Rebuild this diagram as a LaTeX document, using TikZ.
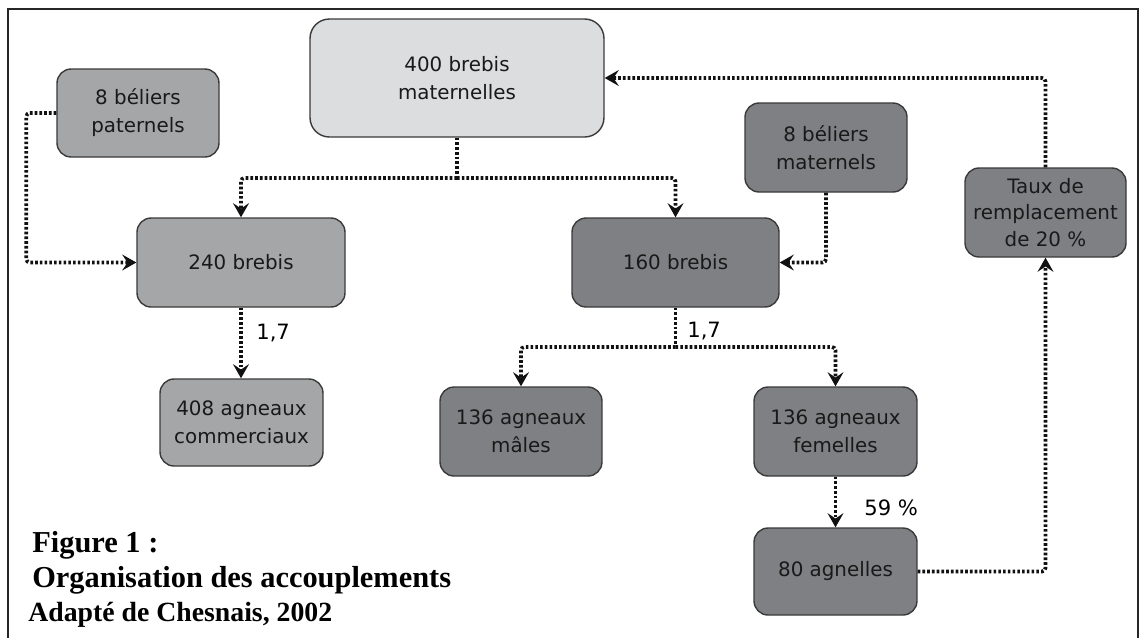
\documentclass[tikz,border=0pt]{standalone}
\usepackage{fontspec}
\setmainfont{Liberation Serif}
\newfontfamily\boxfont{DejaVu Sans}
\usetikzlibrary{arrows.meta}
\definecolor{lightfill}{HTML}{DCDDDF}
\definecolor{midfill}{HTML}{A5A6A8}
\definecolor{darkfill}{HTML}{7F8083}
\definecolor{boxline}{HTML}{3A3A3A}
\definecolor{linecol}{HTML}{111111}
\tikzset{
  box/.style={draw=boxline, line width=0.8pt, rounded corners=8pt, align=center,
    font=\boxfont\fontsize{11.3}{16}\selectfont, text=black!90, inner sep=2pt},
  conn/.style={draw=linecol, line width=2.1pt, dash pattern=on 1.5pt off 1.2pt, rounded corners=2pt},
  arr/.style={conn, -{Stealth[length=8pt,width=9pt,inset=3pt]}},
  lbl/.style={font=\boxfont\fontsize{12}{14}\selectfont, text=black, anchor=west, inner sep=0pt},
  captext/.style={anchor=base west, inner sep=0pt}
}
\begin{document}
\begin{tikzpicture}[x=0.02cm, y=-0.02cm]
\useasboundingbox (0,0) rectangle (1145,637);
\fill[white] (0,0) rectangle (1145,637);
\draw[line width=1.1pt, black!85] (8,645) -- (8,9) -- (1138,9) -- (1138,645);

\node[box, fill=midfill, minimum width=3.24cm, minimum height=1.76cm] (bp) at (138,113) {8 béliers\\paternels};
\node[box, fill=lightfill, minimum width=5.88cm, minimum height=2.36cm, rounded corners=11pt] (mat) at (457,78) {400 brebis\\maternelles};
\node[box, fill=midfill, minimum width=4.16cm, minimum height=1.78cm] (b240) at (241,262.5) {240 brebis};
\node[box, fill=darkfill, minimum width=4.14cm, minimum height=1.78cm] (b160) at (675.5,262.5) {160 brebis};
\node[box, fill=darkfill, minimum width=3.24cm, minimum height=1.78cm] (bm) at (826,147.5) {8 béliers\\maternels};
\node[box, fill=darkfill, minimum width=3.22cm, minimum height=1.78cm, font=\boxfont\fontsize{11.3}{15.3}\selectfont] (taux) at (1045.5,212.5) {Taux de\\remplacement\\de 20 \%};
\node[box, fill=midfill, minimum width=3.26cm, minimum height=1.74cm] (a408) at (241.5,422.5) {408 agneaux\\commerciaux};
\node[box, fill=darkfill, minimum width=3.24cm, minimum height=1.78cm] (males) at (521,431.5) {136 agneaux\\mâles};
\node[box, fill=darkfill, minimum width=3.26cm, minimum height=1.78cm] (fem) at (835.5,431.5) {136 agneaux\\femelles};
\node[box, fill=darkfill, minimum width=3.26cm, minimum height=1.74cm] (agn) at (835.5,571.5) {80 agnelles};

\coordinate (j1) at (457,178);
\coordinate (j2) at (675.5,347);

\draw[conn] (mat.south) -- (j1);
\draw[arr] (j1) -| (b240.north);
\draw[arr] (j1) -| (b160.north);
\draw[arr] (bp.west) -- ++(-30,0) |- (b240.west);
\draw[arr] (bm.south) |- (b160.east);
\draw[arr] (taux.north) |- (mat.east);
\draw[arr] (agn.east) -| (taux.south);
\draw[arr] (b240.south) -- (b240.south |- a408.north);
\draw[conn] (b160.south) -- (j2);
\draw[arr] (j2) -| (males.north);
\draw[arr] (j2) -| (fem.north);
\draw[arr] (fem.south) -- (agn.north);

\node[lbl] (l1) at (256,333) {1,7};
\node[lbl] (l2) at (687,331) {1,7};
\node[lbl] (l3) at (864,508) {59 \%};

\node[captext, font=\bfseries\fontsize{17.3}{20}\selectfont] (c1) at (32,552) {Figure 1 :};
\node[captext, font=\bfseries\fontsize{17.3}{20}\selectfont] (c2) at (32,587) {Organisation des accouplements};
\node[captext, font=\bfseries\fontsize{15.8}{18}\selectfont] (c3) at (28,621) {Adapté de Chesnais, 2002};
\end{tikzpicture}
\end{document}
